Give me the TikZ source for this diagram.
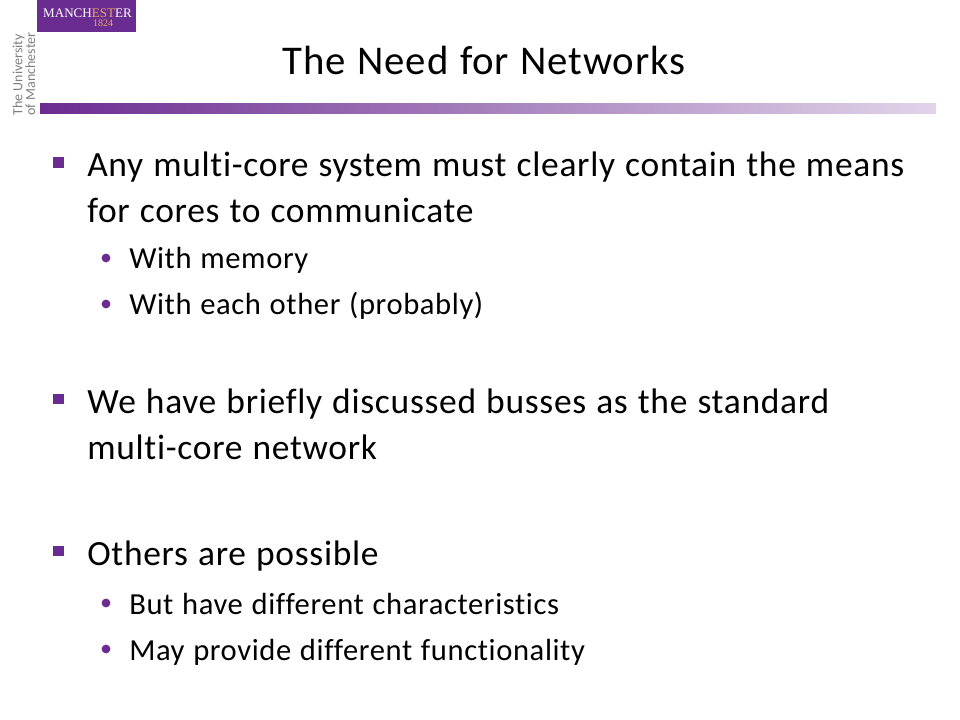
\documentclass[tikz,border=0pt]{standalone}
\usepackage{fontspec}
\setmainfont{Carlito}[Ligatures=NoCommon,LetterSpace=2,WordSpace=1.15]
\newfontfamily\logofont{Liberation Serif}
\newfontfamily\unifont{Carlito}
\definecolor{uompurple}{HTML}{6B2C91}
\definecolor{uomgold}{HTML}{E8A860}
\definecolor{uomgrey}{HTML}{7F7F7F}
\tikzset{
  titletext/.style={anchor=base,inner sep=0pt,font=\fontsize{30.6}{32}\selectfont},
  leveltext/.style={anchor=base west,inner sep=0pt,font=\fontsize{26.6}{28}\selectfont},
  subtext/.style={anchor=base west,inner sep=0pt,font=\fontsize{22.95}{24}\selectfont},
  squarebullet/.style={fill=uompurple,inner sep=0pt,minimum size=8.2pt},
  roundbullet/.style={circle,fill=uompurple,inner sep=0pt,minimum size=6.6pt}
}
\begin{document}
\begin{tikzpicture}[x=0.75pt,y=-0.75pt]
\useasboundingbox (0,0) rectangle (960,720);

% logo and bar
\path[fill=uompurple] (37,0) rectangle (136,32);
\node[anchor=base,inner sep=0pt,text=white,font=\logofont\fontsize{9.8}{11}\selectfont] (logoname) at (87.5,18) {MANCH\textcolor{uomgold}{EST}ER};
\node[anchor=base,inner sep=0pt,text=uomgold,font=\logofont\fontsize{7.5}{8}\selectfont] (logoyear) at (103,27) {1824};
\node[rotate=90,align=left,inner sep=0pt,text=uomgrey,font=\unifont\fontsize{10.5}{9.5}\selectfont] (uni) at (24,74) {The University\\of Manchester};
\shade[left color=uompurple,right color=uompurple!20] (40,104) rectangle (936,114);

\node[titletext] (title) at (484,75) {The Need for Networks};

% first group
\node[squarebullet] (b1) at (58.5,162.5) {};
\node[leveltext] (t1) at (87,177) {Any multi-core system must clearly contain the means};
\node[leveltext] (t1b) at (87,223) {for cores to communicate};
\node[roundbullet] (b11) at (106,258) {};
\node[subtext] (t11) at (129,269) {With memory};
\node[roundbullet] (b12) at (106,304) {};
\node[subtext] (t12) at (129,315) {With each other (probably)};

% second group
\node[squarebullet] (b2) at (58.5,399) {};
\node[leveltext] (t2) at (87,413) {We have briefly discussed busses as the standard};
\node[leveltext] (t2b) at (87,459) {multi-core network};

% third group
\node[squarebullet] (b3) at (58.5,551) {};
\node[leveltext] (t3) at (87,565) {Others are possible};
\node[roundbullet] (b31) at (106,603) {};
\node[subtext] (t31) at (129,614) {But have different characteristics};
\node[roundbullet] (b32) at (106,649) {};
\node[subtext] (t32) at (129,660) {May provide different functionality};
\end{tikzpicture}
\end{document}
